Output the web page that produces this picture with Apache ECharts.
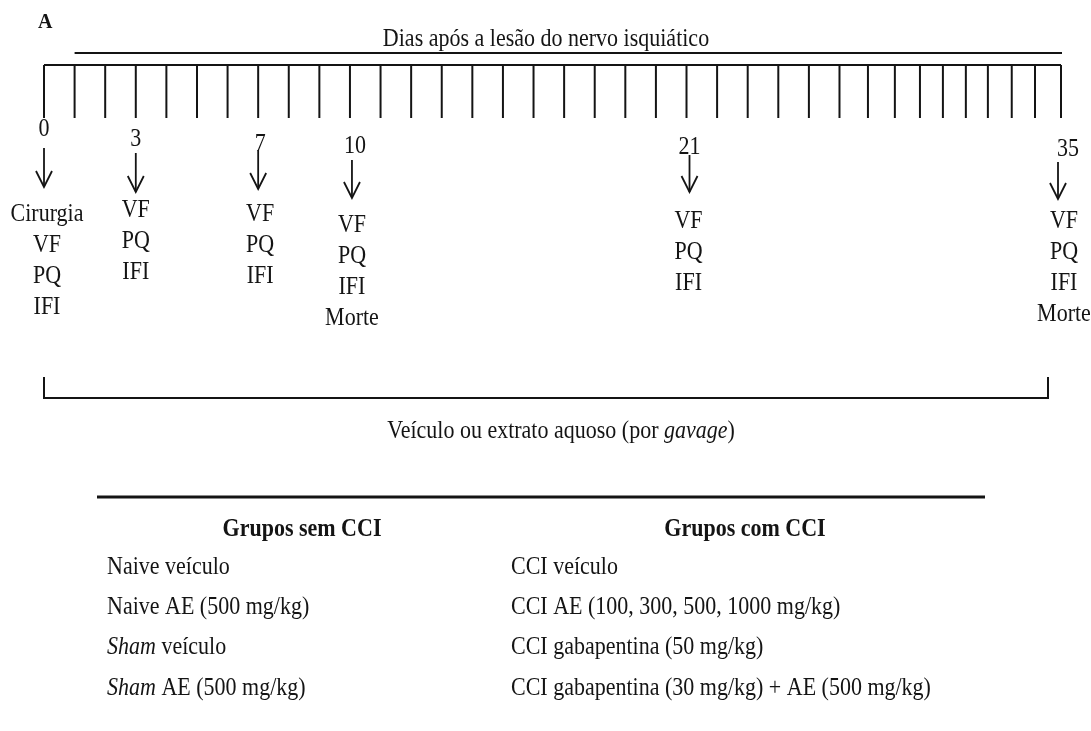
<!DOCTYPE html>
<html><head><meta charset="utf-8">
<script src="https://cdn.jsdelivr.net/npm/echarts@6/dist/echarts.min.js"></script>
<style>html,body{margin:0;padding:0;background:#fff}#c{width:1091px;height:731px}</style>
</head><body><div id="c"></div>
<script>
// ---- data ----
const panelLetter = 'A';
const axisTitle = 'Dias após a lesão do nervo isquiático';
const rulerDays = [0,1,2,3,4,5,6,7,8,9,10,11,12,13,14,15,16,17,18,19,20,21,22,23,24,25,26,27,28,29,30,31,32,33,34,35];
// visual position of each day mark on the drawn ruler (the drawing is not to scale after day 26)
const rulerTickPos = [0,1,2,3,4,5,6,7,8,9,10,11,12,13,14,15,16,17,18,19,20,21,22,23,24,25,26,26.93,27.81,28.63,29.38,30.13,30.85,31.63,32.39,33.24];
const eventDays = [0,3,7,10,21,35];
const eventLabels = [
  ['Cirurgia','VF','PQ','IFI'],
  ['VF','PQ','IFI'],
  ['VF','PQ','IFI'],
  ['VF','PQ','IFI','Morte'],
  ['VF','PQ','IFI'],
  ['VF','PQ','IFI','Morte']
];
const treatmentLabel = 'Veículo ou extrato aquoso (por {i|gavage})';
const groupHeaders = ['Grupos sem CCI','Grupos com CCI'];
const groupsWithoutCCI = ['Naive veículo','Naive AE (500 mg/kg)','{i|Sham} veículo','{i|Sham} AE (500 mg/kg)'];
const groupsWithCCI = ['CCI veículo','CCI AE (100, 300, 500, 1000 mg/kg)','CCI gabapentina (50 mg/kg)','CCI gabapentina (30 mg/kg) + AE (500 mg/kg)'];

// ---- layout (pixels) ----
const FONT = 'Liberation Serif';
const FS = 22;
const SY = 1.1;
const INK = '#141414';
const eventLayout = [ // numY, numDx, arrowTop, arrowBottom, arrowDx, textY, textDx
  [130, 0, 148, 187, 0, 215, 3],
  [140, 0, 153, 192, 0, 211, 0],
  [145, 2, 150, 189, 0, 215, 2],
  [147, 5, 160, 198, 2, 226, 2],
  [148, 3, 155, 192, 3, 222, 2],
  [150, 7, 162, 199, -3, 222, 3]
];
const LINE_H = 31;

const chart = echarts.init(document.getElementById('c'), null, {renderer:'canvas'});

function txt(x, y, text, extra) {
  return {type:'text', x:x, y:y, scaleY:SY, style:Object.assign({text:text, fill:INK, font: FS+'px "'+FONT+'"', align:'center', verticalAlign:'middle'}, extra||{})};
}

const richItalic = {i:{fontStyle:'italic', fontFamily:FONT, fontSize:FS, fill:INK, color:INK}};

const graphics = [
  {type:'text', x:38, y:22, scaleY:SY, style:{text:panelLetter, fill:INK, font:'bold 20px "'+FONT+'"', verticalAlign:'middle'}},
  // bracket for treatment period
  {type:'polyline', shape:{points:[[44,377],[44,398],[1048,398],[1048,377]]}, style:{stroke:INK, lineWidth:2, fill:null}},
  {type:'text', x:561, y:432, scaleY:SY, style:{text:treatmentLabel, fill:INK, fontFamily:FONT, fontSize:FS, align:'center', verticalAlign:'middle', rich:richItalic}},
  // table rule
  {type:'line', shape:{x1:97, y1:497, x2:985, y2:497}, style:{stroke:INK, lineWidth:3}},
  {type:'text', x:302, y:530, scaleY:SY, style:{text:groupHeaders[0], fill:INK, font:'bold '+FS+'px "'+FONT+'"', align:'center', verticalAlign:'middle'}},
  {type:'text', x:745, y:530, scaleY:SY, style:{text:groupHeaders[1], fill:INK, font:'bold '+FS+'px "'+FONT+'"', align:'center', verticalAlign:'middle'}}
];
const rowY = [568, 608, 648, 689];
groupsWithoutCCI.forEach((g,i)=>graphics.push({type:'text', x:107, y:rowY[i], scaleY:SY, style:{text:g, fill:INK, fontFamily:FONT, fontSize:FS, align:'left', verticalAlign:'middle', rich:richItalic}}));
groupsWithCCI.forEach((g,i)=>graphics.push({type:'text', x:511, y:rowY[i], scaleY:SY, style:{text:g, fill:INK, fontFamily:FONT, fontSize:FS, align:'left', verticalAlign:'middle', rich:richItalic}}));

const option = {
  backgroundColor:'#fff',
  animation:false,
  grid:{left:44, right:30, top:0, bottom:0},
  xAxis:{type:'value', min:0, max:rulerTickPos[rulerTickPos.length-1], show:false},
  yAxis:{type:'value', min:0, max:731, inverse:true, show:false},
  graphic: graphics,
  series:[
    { // ruler
      type:'custom', coordinateSystem:'cartesian2d',
      data: rulerDays.map((d,i)=>[rulerTickPos[i], d]),
      renderItem:function(params, api){
        const p = api.coord([api.value(0), 0]);
        const children = [{type:'line', shape:{x1:p[0], y1:65, x2:p[0], y2:118}, style:{stroke:INK, lineWidth:2}}];
        if (params.dataIndex === 0) {
          const a = api.coord([rulerTickPos[0],0])[0], b = api.coord([rulerTickPos[rulerTickPos.length-1],0])[0];
          const t1 = api.coord([rulerTickPos[1],0])[0];
          children.push({type:'line', shape:{x1:a, y1:65, x2:b, y2:65}, style:{stroke:INK, lineWidth:2}});
          children.push({type:'line', shape:{x1:t1, y1:53, x2:b+1, y2:53}, style:{stroke:INK, lineWidth:2}});
          children.push(txt(546, 40, axisTitle));
        }
        return {type:'group', children:children};
      }
    },
    { // events
      type:'custom', coordinateSystem:'cartesian2d',
      data: eventDays.map((d,i)=>[rulerTickPos[rulerDays.indexOf(d)], d, i]),
      renderItem:function(params, api){
        const i = api.value(2);
        const L = eventLayout[i];
        const x = api.coord([api.value(0), 0])[0];
        const ax = x + L[4];
        const ch = [
          txt(x + L[1], L[0], String(api.value(1))),
          {type:'line', shape:{x1:ax, y1:L[2], x2:ax, y2:L[3]}, style:{stroke:INK, lineWidth:1.8}},
          {type:'polyline', shape:{points:[[ax-8, L[3]-16],[ax, L[3]],[ax+8, L[3]-16]]}, style:{stroke:INK, lineWidth:1.8, fill:null}}
        ];
        eventLabels[i].forEach((t,k)=>ch.push(txt(x + L[6], L[5] + k*LINE_H, t)));
        return {type:'group', children:ch};
      }
    }
  ]
};
chart.setOption(option);
</script>
</body></html>
